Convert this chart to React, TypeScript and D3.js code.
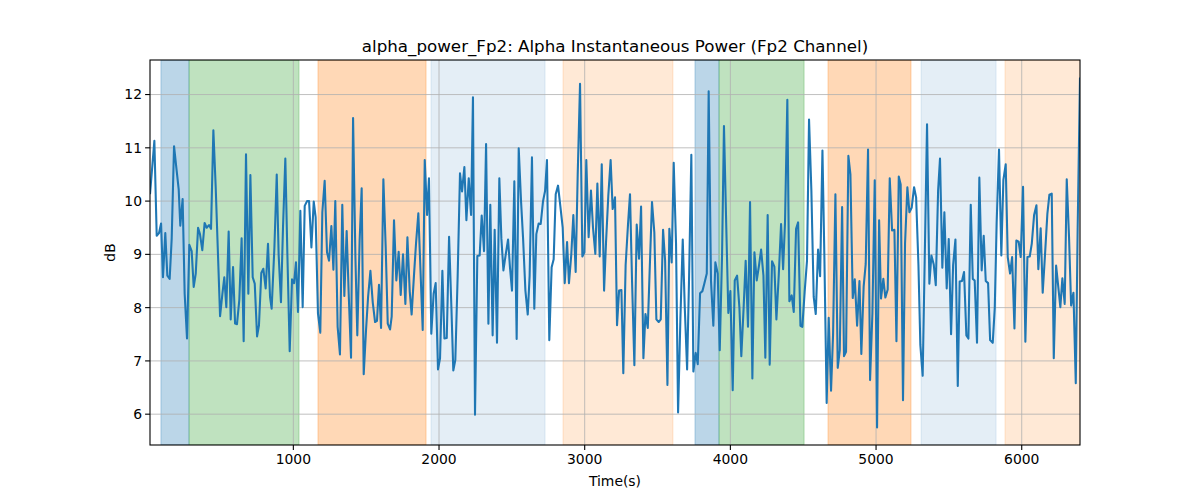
import React from 'react';
import * as d3 from 'd3';

const times = [
  16, 46, 62, 78, 92, 105, 121, 135, 151, 165, 181, 199, 213, 224, 240, 254, 270, 286, 302, 316, 330, 346, 359, 375, 391, 405, 421, 435, 451, 467, 481, 497, 513, 526, 540, 556, 570, 586, 600, 613, 629, 645, 659, 675, 691, 705, 721, 735, 751, 764, 780, 794, 810, 826, 840,
  851, 870, 886, 899, 915, 929, 945, 959, 975, 991, 1005, 1018, 1032, 1048, 1064, 1078, 1094, 1108, 1124, 1140, 1153, 1169, 1185, 1199, 1215, 1231, 1245, 1261, 1275, 1288, 1304, 1320, 1336, 1350, 1366, 1380, 1396, 1410, 1426, 1439, 1455, 1469, 1483, 1499, 1513, 1529, 1545, 1561, 1574, 1588, 1602, 1618, 1634, 1648, 1664,
  1675, 1691, 1707, 1723, 1737, 1753, 1769, 1783, 1799, 1812, 1828, 1842, 1858, 1872, 1888, 1902, 1918, 1931, 1947, 1963, 1977, 1993, 2007, 2023, 2037, 2053, 2069, 2085, 2098, 2112, 2128, 2144, 2158, 2174, 2188, 2204, 2220, 2233, 2247, 2263, 2279, 2293, 2309, 2323, 2339, 2352, 2368, 2382, 2398, 2414, 2428, 2442, 2458, 2474, 2487,
  2501, 2517, 2533, 2547, 2563, 2577, 2593, 2609, 2622, 2638, 2654, 2668, 2684, 2698, 2714, 2728, 2741, 2757, 2773, 2787, 2801, 2817, 2833, 2849, 2863, 2879, 2892, 2908, 2922, 2938, 2952, 2968, 2984, 2998, 3011, 3027, 3043, 3057, 3073, 3087, 3103, 3117, 3133, 3146, 3162, 3178, 3192, 3208, 3222, 3236, 3252, 3265, 3281, 3297, 3311,
  3325, 3341, 3357, 3373, 3387, 3403, 3417, 3433, 3446, 3462, 3478, 3492, 3508, 3522, 3538, 3552, 3568, 3581, 3597, 3611, 3627, 3641, 3657, 3673, 3687, 3703, 3716, 3732, 3746, 3762, 3776, 3792, 3808, 3821, 3838, 3851, 3867, 3883, 3897, 3913, 3927, 3943, 3956, 3972, 3986, 4000, 4016, 4030, 4046, 4062, 4075, 4091, 4105, 4121, 4135,
  4151, 4165, 4181, 4197, 4211, 4227, 4240, 4256, 4270, 4286, 4302, 4316, 4332, 4348, 4362, 4375, 4391, 4405, 4421, 4435, 4451, 4465, 4481, 4494, 4510, 4526, 4540, 4556, 4572, 4586, 4602, 4616, 4632, 4645, 4661, 4675, 4691, 4705, 4721, 4737, 4751, 4767, 4780, 4794, 4810, 4824, 4840, 4854, 4870, 4886, 4899, 4915, 4929, 4945, 4959,
  4975, 4991, 5007, 5021, 5034, 5050, 5064, 5080, 5094, 5110, 5126, 5140, 5156, 5169, 5185, 5199, 5215, 5229, 5245, 5261, 5275, 5291, 5304, 5320, 5334, 5350, 5366, 5380, 5396, 5410, 5426, 5439, 5455, 5469, 5485, 5499, 5515, 5529, 5545, 5561, 5574, 5590, 5604, 5620, 5634, 5650, 5664, 5677, 5693, 5709, 5725, 5739, 5753, 5769, 5783,
  5801, 5815, 5828, 5844, 5860, 5874, 5890, 5904, 5920, 5934, 5950, 5963, 5979, 5993, 6009, 6025, 6039, 6055, 6069, 6085, 6101, 6114, 6130, 6144, 6160, 6176, 6190, 6206, 6220, 6236, 6249, 6265, 6279, 6295, 6309, 6325, 6339, 6355, 6371, 6384, 6400,
];

const values = [
  10.13, 11.13, 9.35, 9.4, 9.58, 8.57, 9.4, 8.6, 8.54, 9.3, 11.03, 10.57, 10.22, 9.54, 10.04, 8.26, 7.42, 9.18, 9.06, 8.39, 8.64, 9.5, 9.38, 9.08, 9.59, 9.5, 9.55, 9.48, 11.33, 10.26, 9.13, 7.84, 8.26, 8.57, 8.01, 9.43, 7.78, 8.76, 7.7, 7.69, 8.14, 9.3, 7.37, 10.88, 8.26, 10.49, 8.57, 8.45, 7.46, 7.67, 8.65, 8.73, 8.36, 9.2, 8.2,
  7.98, 9.13, 10.5, 9.0, 8.1, 9.5, 10.8, 9.0, 7.18, 8.53, 8.46, 8.85, 7.92, 9.82, 8.01, 9.91, 10.0, 10.0, 9.13, 9.99, 9.7, 7.89, 7.53, 9.79, 10.38, 9.04, 8.88, 9.53, 8.71, 10.0, 7.64, 7.12, 9.93, 8.22, 9.44, 8.26, 7.06, 11.56, 8.95, 7.48, 9.26, 10.24, 6.75, 7.58, 8.2, 8.69, 8.1, 7.73, 7.75, 8.43, 7.62, 10.41, 9.13, 7.7, 7.59,
  7.83, 9.64, 8.51, 9.05, 8.24, 9.0, 8.07, 9.32, 8.3, 7.87, 8.6, 9.2, 9.77, 8.76, 7.58, 10.77, 9.74, 10.43, 7.51, 8.26, 8.46, 6.84, 7.05, 8.69, 7.42, 7.43, 9.33, 8.0, 6.82, 7.02, 8.6, 10.52, 10.18, 10.64, 9.64, 10.43, 9.74, 11.95, 5.99, 8.97, 8.98, 9.73, 9.06, 11.07, 7.7, 9.93, 7.48, 9.46, 7.34, 10.43, 9.3, 8.7, 9.0, 9.28, 8.76,
  8.32, 10.37, 7.41, 10.99, 10.0, 9.3, 8.32, 7.87, 8.6, 10.82, 7.98, 9.38, 9.58, 9.57, 10.0, 10.19, 10.77, 7.39, 8.76, 8.91, 10.13, 10.29, 9.9, 9.5, 8.46, 9.23, 8.46, 9.0, 9.74, 8.67, 10.5, 12.2, 8.96, 9.04, 10.77, 9.32, 10.2, 9.5, 9.01, 10.33, 8.96, 10.69, 8.32, 9.2, 10.1, 10.77, 9.85, 10.07, 7.67, 8.32, 8.33, 6.77, 8.8, 9.55, 10.13,
  8.5, 6.92, 9.56, 8.92, 9.9, 7.05, 7.88, 7.62, 8.7, 9.98, 9.41, 7.78, 7.73, 7.78, 9.46, 8.88, 6.55, 9.48, 8.85, 10.72, 9.2, 6.03, 7.8, 9.28, 8.0, 6.84, 8.5, 10.87, 6.8, 7.15, 6.94, 8.27, 8.31, 8.45, 8.64, 12.06, 8.5, 7.66, 8.85, 8.64, 7.2, 9.0, 11.41, 9.5, 7.9, 8.31, 6.45, 8.51, 8.6, 8.0, 7.09, 8.0, 8.88, 7.64, 9.98,
  6.67, 9.04, 8.51, 8.8, 9.09, 8.6, 7.06, 9.74, 6.93, 8.87, 8.77, 7.78, 8.6, 9.57, 8.72, 9.6, 11.9, 8.12, 8.23, 7.92, 9.48, 9.6, 7.66, 7.64, 8.3, 8.88, 11.53, 10.2, 8.2, 7.88, 9.09, 8.59, 10.95, 9.0, 6.21, 7.81, 6.44, 7.5, 10.13, 6.87, 7.2, 9.89, 7.09, 7.17, 10.85, 10.5, 8.18, 8.53, 7.66, 8.5, 7.13, 8.4, 8.82, 10.97, 6.64,
  7.9, 10.39, 5.75, 9.64, 8.17, 8.54, 8.19, 8.34, 10.43, 9.45, 9.46, 7.37, 10.46, 10.31, 6.26, 9.2, 10.26, 9.79, 9.88, 10.26, 10.07, 8.8, 7.3, 6.72, 8.9, 11.44, 8.45, 8.98, 8.81, 8.42, 10.2, 10.8, 8.75, 9.79, 8.36, 9.29, 7.5, 8.8, 9.28, 6.53, 8.49, 8.5, 8.67, 7.48, 7.42, 9.93, 8.54, 8.51, 7.34, 10.44, 8.7, 9.35, 8.5, 8.46, 7.39,
  7.34, 8.0, 9.6, 10.97, 8.98, 10.4, 10.69, 8.95, 8.64, 8.95, 7.61, 9.26, 9.24, 8.95, 10.27, 7.36, 8.95, 8.96, 9.2, 9.74, 9.92, 8.72, 9.49, 8.28, 9.0, 9.76, 10.12, 10.14, 7.05, 8.79, 8.44, 8.01, 8.55, 8.07, 10.41, 9.3, 8.04, 8.28, 6.58, 9.5, 12.32,
];

const bandStart = [91, 284, 1169, 1945, 2851, 3757, 3922, 4670, 5309, 5885];
const bandEnd = [284, 1039, 1911, 2728, 3606, 3922, 4506, 5240, 5824, 6450];
const bandColor = ['#1f77b4', '#2ca02c', '#ff7f0e', '#1f77b4', '#ff7f0e', '#1f77b4', '#2ca02c', '#ff7f0e', '#1f77b4', '#ff7f0e'];
const bandOpacity = [0.3, 0.3, 0.3, 0.12, 0.17, 0.3, 0.3, 0.3, 0.12, 0.17];

const xTicks = [1000, 2000, 3000, 4000, 5000, 6000];
const yTicks = [6, 7, 8, 9, 10, 11, 12];

const titleText = 'alpha_power_Fp2: Alpha Instantaneous Power (Fp2 Channel)';
const xLabel = 'Time(s)';
const yLabel = 'dB';

export default function App() {
  const W = 1200;
  const H = 500;
  const L = 150, R = 1080, T = 60, B = 445;
  const font = 'DejaVu Sans, sans-serif';

  const x = d3.scaleLinear().domain(d3.extent(times) as [number, number]).range([L, R]);
  const [vmin, vmax] = d3.extent(values) as [number, number];
  const pad = (vmax - vmin) * 0.05;
  const y = d3.scaleLinear().domain([vmin - pad, vmax + pad]).range([B, T]);

  const line = d3
    .line<number>()
    .x((_, i) => x(times[i]))
    .y((d) => y(d));

  return (
    <svg
      width={W}
      height={H}
      style={{ position: 'absolute', left: 0, top: 0, background: '#fff' }}
      fontFamily={font}
    >
      <defs>
        <clipPath id="plotclip">
          <rect x={L} y={T} width={R - L} height={B - T} />
        </clipPath>
      </defs>
      <rect x={0} y={0} width={W} height={H} fill="#fff" />
      <g clipPath="url(#plotclip)">
        {bandStart.map((s, i) => (
          <rect
            key={'b' + i}
            x={x(s)}
            y={T}
            width={x(bandEnd[i]) - x(s)}
            height={B - T}
            fill={bandColor[i]}
            fillOpacity={bandOpacity[i]}
            stroke={bandColor[i]}
            strokeOpacity={bandOpacity[i]}
            strokeWidth={1}
          />
        ))}
        {xTicks.map((t) => (
          <line key={'gx' + t} x1={x(t)} x2={x(t)} y1={T} y2={B} stroke="#b0b0b0" strokeWidth={0.8} />
        ))}
        {yTicks.map((t) => (
          <line key={'gy' + t} x1={L} x2={R} y1={y(t)} y2={y(t)} stroke="#b0b0b0" strokeWidth={0.8} />
        ))}
        <path d={line(values) || ''} fill="none" stroke="#1f77b4" strokeWidth={2.08} strokeLinejoin="round" strokeLinecap="butt" />
      </g>
      <rect x={L} y={T} width={R - L} height={B - T} fill="none" stroke="#000" strokeWidth={1.1} />
      {xTicks.map((t) => (
        <g key={'tx' + t}>
          <line x1={x(t)} x2={x(t)} y1={B} y2={B + 4.9} stroke="#000" strokeWidth={1.1} />
          <text x={x(t)} y={B + 19} textAnchor="middle" fontSize={13.9} fill="#000">
            {t}
          </text>
        </g>
      ))}
      {yTicks.map((t) => (
        <g key={'ty' + t}>
          <line x1={L - 4.9} x2={L} y1={y(t)} y2={y(t)} stroke="#000" strokeWidth={1.1} />
          <text x={L - 8} y={y(t)} dy="0.35em" textAnchor="end" fontSize={13.9} fill="#000">
            {t}
          </text>
        </g>
      ))}
      <text x={(L + R) / 2} y={T - 8} textAnchor="middle" fontSize={16.7} fill="#000">
        {titleText}
      </text>
      <text x={(L + R) / 2} y={486} textAnchor="middle" fontSize={13.9} fill="#000">
        {xLabel}
      </text>
      <text
        transform={`translate(115, ${(T + B) / 2}) rotate(-90)`}
        textAnchor="middle"
        fontSize={13.9}
        fill="#000"
      >
        {yLabel}
      </text>
    </svg>
  );
}
